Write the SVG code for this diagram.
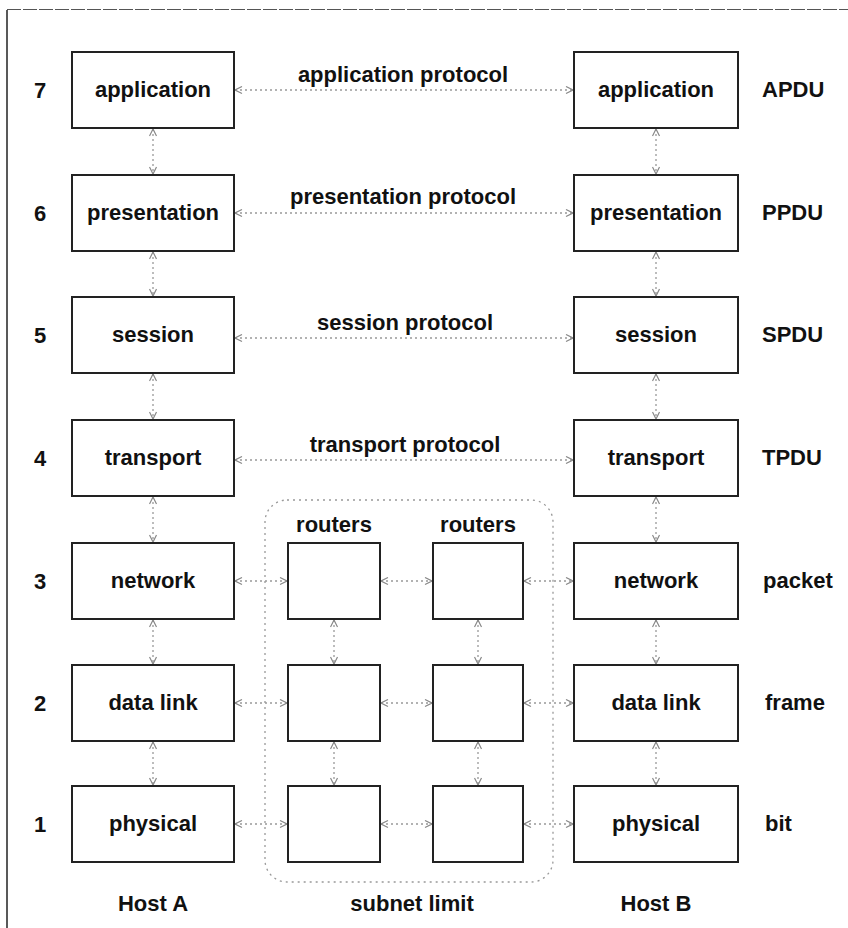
<svg xmlns="http://www.w3.org/2000/svg" width="848" height="928" viewBox="0 0 848 928">
<defs>
<style>
.box{fill:#fff;stroke:#222;stroke-width:2}
.t{font-family:"Liberation Sans",Arial,sans-serif;font-weight:bold;font-size:22px;fill:#111;text-anchor:middle}
.ts{font-family:"Liberation Sans",Arial,sans-serif;font-weight:bold;font-size:22px;fill:#111;text-anchor:start}
.c{fill:none;stroke:#999;stroke-width:1.3;stroke-dasharray:2 3;marker-start:url(#ah);marker-end:url(#ah)}
.subnet{fill:none;stroke:#999;stroke-width:1.3;stroke-dasharray:2 4}
</style>
<marker id="ah" markerUnits="userSpaceOnUse" markerWidth="9" markerHeight="9" refX="8" refY="4.5" orient="auto-start-reverse">
<path d="M1,1 L8,4.5 L1,8" fill="none" stroke="#888" stroke-width="1.2"/>
</marker>
</defs>
<rect width="848" height="928" fill="#fff"/>
<g id="frame">
<line x1="7" y1="10" x2="7" y2="928" stroke="#222" stroke-width="1.5"/>
<line x1="7" y1="9.5" x2="848" y2="9.5" stroke="#555" stroke-width="1" stroke-dasharray="14 2"/>
</g>
<g id="subnet-limit">
<rect class="subnet" x="265" y="500" width="288" height="382" rx="22"/>
<text class="t" x="412" y="911">subnet limit</text>
</g>
<g id="connectors">
<!-- Host A vertical -->
<line class="c" x1="153" y1="129" x2="153" y2="174"/>
<line class="c" x1="153" y1="252" x2="153" y2="296"/>
<line class="c" x1="153" y1="374" x2="153" y2="419"/>
<line class="c" x1="153" y1="497" x2="153" y2="542"/>
<line class="c" x1="153" y1="620" x2="153" y2="664"/>
<line class="c" x1="153" y1="742" x2="153" y2="785"/>
<!-- Host B vertical -->
<line class="c" x1="656" y1="129" x2="656" y2="174"/>
<line class="c" x1="656" y1="252" x2="656" y2="296"/>
<line class="c" x1="656" y1="374" x2="656" y2="419"/>
<line class="c" x1="656" y1="497" x2="656" y2="542"/>
<line class="c" x1="656" y1="620" x2="656" y2="664"/>
<line class="c" x1="656" y1="742" x2="656" y2="785"/>
<!-- Router vertical -->
<line class="c" x1="334" y1="620" x2="334" y2="664"/>
<line class="c" x1="334" y1="742" x2="334" y2="785"/>
<line class="c" x1="478" y1="620" x2="478" y2="664"/>
<line class="c" x1="478" y1="742" x2="478" y2="785"/>
<!-- Peer protocols -->
<line class="c" x1="235" y1="90" x2="573" y2="90"/>
<line class="c" x1="235" y1="213" x2="573" y2="213"/>
<line class="c" x1="235" y1="338" x2="573" y2="338"/>
<line class="c" x1="235" y1="460" x2="573" y2="460"/>
<!-- Network / data link / physical rows -->
<line class="c" x1="235" y1="581" x2="287" y2="581"/>
<line class="c" x1="381" y1="581" x2="432" y2="581"/>
<line class="c" x1="524" y1="581" x2="573" y2="581"/>
<line class="c" x1="235" y1="703" x2="287" y2="703"/>
<line class="c" x1="381" y1="703" x2="432" y2="703"/>
<line class="c" x1="524" y1="703" x2="573" y2="703"/>
<line class="c" x1="235" y1="824" x2="287" y2="824"/>
<line class="c" x1="381" y1="824" x2="432" y2="824"/>
<line class="c" x1="524" y1="824" x2="573" y2="824"/>
</g>
<g id="protocol-labels">
<text class="t" x="403" y="82">application protocol</text>
<text class="t" x="403" y="204">presentation protocol</text>
<text class="t" x="405" y="330">session protocol</text>
<text class="t" x="405" y="452">transport protocol</text>
</g>
<g id="layer-numbers">
<text class="t" x="40" y="98">7</text>
<text class="t" x="40" y="221">6</text>
<text class="t" x="40" y="343">5</text>
<text class="t" x="40" y="466">4</text>
<text class="t" x="40" y="589">3</text>
<text class="t" x="40" y="711">2</text>
<text class="t" x="40" y="832">1</text>
</g>
<g id="hostA-application"><rect class="box" x="72" y="52" width="162" height="76"/><text class="t" x="153" y="97">application</text></g>
<g id="hostA-presentation"><rect class="box" x="72" y="175" width="162" height="76"/><text class="t" x="153" y="220">presentation</text></g>
<g id="hostA-session"><rect class="box" x="72" y="297" width="162" height="76"/><text class="t" x="153" y="342">session</text></g>
<g id="hostA-transport"><rect class="box" x="72" y="420" width="162" height="76"/><text class="t" x="153" y="465">transport</text></g>
<g id="hostA-network"><rect class="box" x="72" y="543" width="162" height="76"/><text class="t" x="153" y="588">network</text></g>
<g id="hostA-datalink"><rect class="box" x="72" y="665" width="162" height="76"/><text class="t" x="153" y="710">data link</text></g>
<g id="hostA-physical"><rect class="box" x="72" y="786" width="162" height="76"/><text class="t" x="153" y="831">physical</text></g>
<g id="hostB-application"><rect class="box" x="574" y="52" width="164" height="76"/><text class="t" x="656" y="97">application</text></g>
<g id="hostB-presentation"><rect class="box" x="574" y="175" width="164" height="76"/><text class="t" x="656" y="220">presentation</text></g>
<g id="hostB-session"><rect class="box" x="574" y="297" width="164" height="76"/><text class="t" x="656" y="342">session</text></g>
<g id="hostB-transport"><rect class="box" x="574" y="420" width="164" height="76"/><text class="t" x="656" y="465">transport</text></g>
<g id="hostB-network"><rect class="box" x="574" y="543" width="164" height="76"/><text class="t" x="656" y="588">network</text></g>
<g id="hostB-datalink"><rect class="box" x="574" y="665" width="164" height="76"/><text class="t" x="656" y="710">data link</text></g>
<g id="hostB-physical"><rect class="box" x="574" y="786" width="164" height="76"/><text class="t" x="656" y="831">physical</text></g>
<g id="router1-network"><rect class="box" x="288" y="543" width="92" height="76"/></g>
<g id="router1-datalink"><rect class="box" x="288" y="665" width="92" height="76"/></g>
<g id="router1-physical"><rect class="box" x="288" y="786" width="92" height="76"/></g>
<g id="router2-network"><rect class="box" x="433" y="543" width="90" height="76"/></g>
<g id="router2-datalink"><rect class="box" x="433" y="665" width="90" height="76"/></g>
<g id="router2-physical"><rect class="box" x="433" y="786" width="90" height="76"/></g>
<g id="router-labels">
<text class="t" x="334" y="532">routers</text>
<text class="t" x="478" y="532">routers</text>
</g>
<g id="pdu-labels">
<text class="ts" x="762" y="97">APDU</text>
<text class="ts" x="762" y="220">PPDU</text>
<text class="ts" x="762" y="342">SPDU</text>
<text class="ts" x="762" y="465">TPDU</text>
<text class="ts" x="763" y="588">packet</text>
<text class="ts" x="765" y="710">frame</text>
<text class="ts" x="765" y="831">bit</text>
</g>
<g id="host-labels">
<text class="t" x="153" y="911">Host A</text>
<text class="t" x="656" y="911">Host B</text>
</g>
</svg>
